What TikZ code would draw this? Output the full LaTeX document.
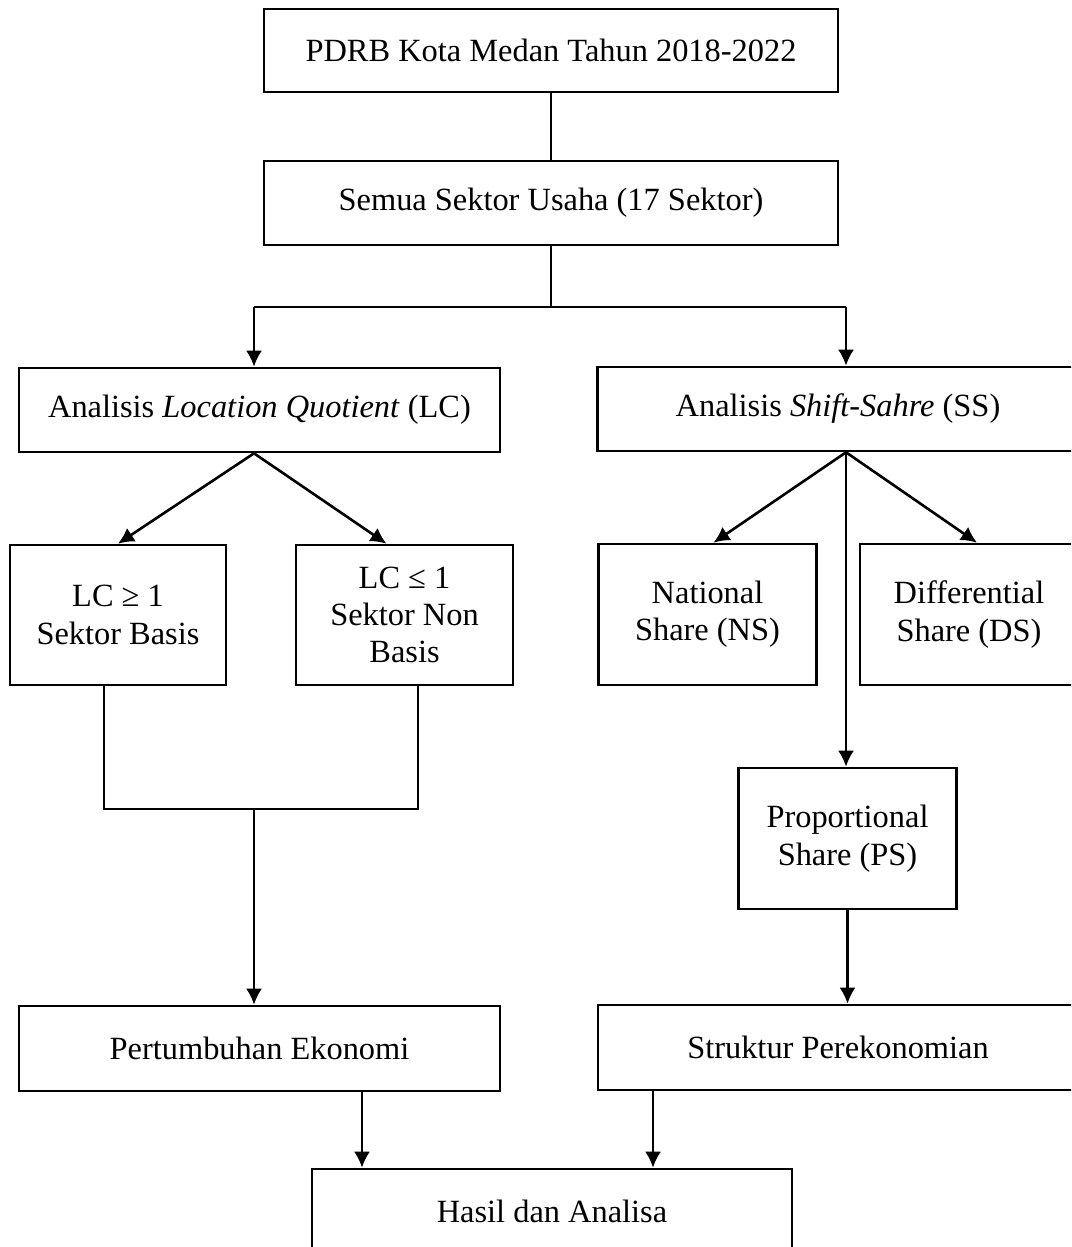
\documentclass[tikz,border=0pt]{standalone}
\usepackage{fontspec}
\setmainfont{Liberation Serif}
\usetikzlibrary{arrows.meta,calc}
\tikzset{>={Latex[length=8pt,width=8pt]}}
\tikzset{
	box/.style={draw, line width=1.3pt, inner sep=0pt, align=center,
		font=\fontsize{16.2}{18.7}\selectfont},
	wide/.style={box, minimum width=240.5pt, minimum height=42pt},
	small/.style={box, minimum width=109pt, minimum height=70.5pt},
	link/.style={line width=1.3pt}
}

\begin{document}
\begin{tikzpicture}[x=0.5pt, y=-0.5pt]
	% page size, boxes on the right run past the edge
	\useasboundingbox (0,0) rectangle (1071,1247);
	\clip (0,0) rectangle (1071,1247);

	% Boxes
	\node[box, minimum width=287pt, minimum height=41.5pt] (pdrb) at (551,50.5) {PDRB Kota Medan Tahun 2018-2022}; %data
	\node[box, minimum width=287pt, minimum height=42pt] (sektor) at (551,203) {Semua Sektor Usaha (17 Sektor)}; %all sectors
	\node[wide] (lq) at (259.5,410) {Analisis \textit{Location Quotient} (LC)}; %LQ
	\node[wide] (ss) at (838,409) {Analisis \textit{Shift-Sahre} (SS)}; %shift share
	\node[small, minimum width=108pt, minimum height=70pt] (basis) at (118,615) {LC ≥ 1\\Sektor Basis};
	\node[small, minimum width=108.5pt, minimum height=70pt] (nonbasis) at (404.5,615) {LC ≤ 1\\Sektor Non\\Basis};
	\node[small] (ns) at (707.5,614.5) {National\\Share (NS)};
	\node[small] (ds) at (969,614.5) {Differential\\Share (DS)};
	\node[small] (ps) at (847.5,838.5) {Proportional\\Share (PS)};
	\node[wide, minimum height=42.5pt] (tumbuh) at (259.5,1048.5) {Pertumbuhan Ekonomi};
	\node[wide, minimum width=240pt, minimum height=42.5pt] (struktur) at (838,1047.5) {Struktur Perekonomian};
	\node[wide, minimum width=240pt, minimum height=42.5pt] (hasil) at (552,1211.5) {Hasil dan Analisa};

	% Branch points
	\coordinate (splitL) at (254,307); %to LQ
	\coordinate (splitR) at (846,307); %to SS
	\coordinate (mergeL) at (104,809); %under basis
	\coordinate (mergeR) at (418,809); %under non basis
	\coordinate (mergeC) at (254,809);
	\coordinate (inL) at (362,1130); %into hasil
	\coordinate (inR) at (653,1130);

	% Drawing everything
	\draw[link] (pdrb) -- (sektor);
	\draw[link] (sektor.south) -- (sektor.south |- splitL);
	\draw[link] (splitL) -- (splitR);
	\draw[link,->] (splitL) -- (splitL |- lq.north);
	\draw[link,->] (splitR) -- (splitR |- ss.north);
	\draw[link,->] (splitL |- lq.south) -- (basis.north);
	\draw[link,->] (splitL |- lq.south) -- ([xshift=-9pt]nonbasis.north);
	\draw[link,->] (splitR |- ss.south) -- ([xshift=3pt]ns.north);
	\draw[link,->] (splitR |- ss.south) -- ([xshift=4pt]ds.north);
	\draw[link,->] (splitR |- ss.south) -- (splitR |- ps.north);
	\draw[link] (mergeL |- basis.south) -- (mergeL) -- (mergeR) -- (mergeR |- nonbasis.south);
	\draw[link,->] (mergeC) -- (mergeC |- tumbuh.north);
	\draw[link,->] (ps.south) -- (ps.south |- struktur.north);
	\draw[link,->] (inL |- tumbuh.south) -- (inL |- hasil.north);
	\draw[link,->] (inR |- struktur.south) -- (inR |- hasil.north);
\end{tikzpicture}
\end{document}
